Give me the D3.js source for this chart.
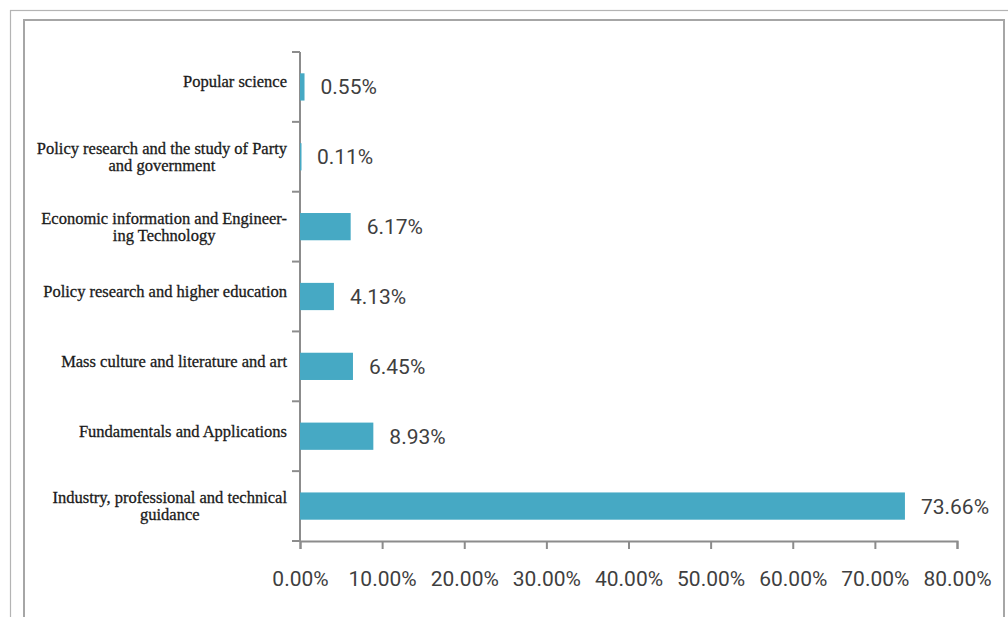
<!DOCTYPE html>
<html>
<head>
<meta charset="utf-8">
<script src="https://cdn.jsdelivr.net/npm/d3@7"></script>
<style>
  html, body { margin: 0; padding: 0; background: #fff; }
  svg { display: block; }
</style>
</head>
<body>
<svg id="chart" width="1008" height="617"></svg>
<script>
// Share of items by category (percent)
const categories = [
  "Popular science",
  "Policy research and the study of Party\nand government",
  "Economic information and Engineer-\ning Technology",
  "Policy research and higher education",
  "Mass culture and literature and art",
  "Fundamentals and Applications",
  "Industry, professional and technical\nguidance"
];
const values = [0.55, 0.11, 6.17, 4.13, 6.45, 8.93, 73.66];
const xTicks = [0, 10, 20, 30, 40, 50, 60, 70, 80];

const svg = d3.select("#chart");
const W = 1008, H = 617;

// frames
svg.append("rect").attr("x", 10.5).attr("y", 10.5).attr("width", W + 10).attr("height", H + 10)
  .attr("fill", "none").attr("stroke", "#b4b4b4").attr("stroke-width", 1.2);
svg.append("rect").attr("x", 24).attr("y", 20).attr("width", 980).attr("height", H + 10)
  .attr("fill", "#fff").attr("stroke", "#a6a6a6").attr("stroke-width", 2);

const x = d3.scaleLinear().domain([0, 80]).range([300, 957]);
const y = d3.scaleBand().domain(categories).range([52, 541])
  .paddingInner(0.61).paddingOuter(0.305);
const step = y.step();

const data = categories.map((c, i) => ({ c, v: values[i] }));

// vertical axis line and category separators
const axisColor = "#8c8c8c";
const yAxis = svg.append("g");
yAxis.append("line").attr("x1", x(0)).attr("x2", x(0))
  .attr("y1", y.range()[0]).attr("y2", y.range()[1])
  .attr("stroke", axisColor).attr("stroke-width", 2);
const bounds = [y(categories[0]) + y.bandwidth() / 2 - step / 2]
  .concat(categories.map(c => y(c) + y.bandwidth() / 2 + step / 2));
yAxis.selectAll("line.tk").data(bounds).join("line").attr("class", "tk")
  .attr("x1", x(0) - 8).attr("x2", x(0))
  .attr("y1", d => d).attr("y2", d => d)
  .attr("stroke", axisColor).attr("stroke-width", 2);

// bars (drawn over the axis line so the smallest values stay visible)
svg.append("g").selectAll("rect").data(data).join("rect")
  .attr("x", x(0))
  .attr("y", d => y(d.c))
  .attr("width", d => Math.max(1.5, x(d.v) - x(0)))
  .attr("height", y.bandwidth())
  .attr("fill", "#46a9c4");

// horizontal axis
const numFont = "Roboto, 'Open Sans', sans-serif";
const xAxis = svg.append("g")
  .attr("transform", `translate(0,${y.range()[1]})`)
  .call(d3.axisBottom(x).tickValues(xTicks).tickSizeOuter(0).tickSize(8).tickPadding(22)
    .tickFormat(d => d.toFixed(2) + "%"));
xAxis.select(".domain").attr("stroke", axisColor).attr("stroke-width", 2);
xAxis.selectAll(".tick line").attr("stroke", axisColor).attr("stroke-width", 2);
xAxis.selectAll(".tick text")
  .attr("font-family", numFont).attr("font-size", 21)
  .attr("fill", "#3f3f3f");

// value labels
svg.append("g").selectAll("text").data(data).join("text")
  .attr("x", d => x(d.v) + 16)
  .attr("y", d => y(d.c) + y.bandwidth() / 2)
  .attr("dy", "0.36em")
  .attr("font-family", numFont).attr("font-size", 21)
  .attr("fill", "#3f3f3f")
  .text(d => d.v.toFixed(2) + "%");

// category labels: lines centred on each other, block right-aligned to the axis
const labelRight = 287, lineH = 17;
const labels = svg.append("g")
  .attr("font-family", "'Liberation Serif', 'Times New Roman', serif")
  .attr("font-size", 16.5).attr("fill", "#1a1a1a")
  .attr("stroke", "#1a1a1a").attr("stroke-width", 0.3);
data.forEach(d => {
  const lines = d.c.split("\n");
  const g = labels.append("g");
  const cy = y(d.c) + y.bandwidth() / 2 + (lines.length > 1 ? 0 : -5);
  const t = g.selectAll("text").data(lines).join("text")
    .attr("x", labelRight).attr("text-anchor", "end")
    .attr("y", (l, i) => cy + (i - (lines.length - 1) / 2) * lineH)
    .attr("dy", "0.33em")
    .text(l => l);
  let maxW = 0;
  t.each(function () { maxW = Math.max(maxW, this.getComputedTextLength()); });
  t.attr("text-anchor", "middle").attr("x", labelRight - maxW / 2);
});
</script>
</body>
</html>
